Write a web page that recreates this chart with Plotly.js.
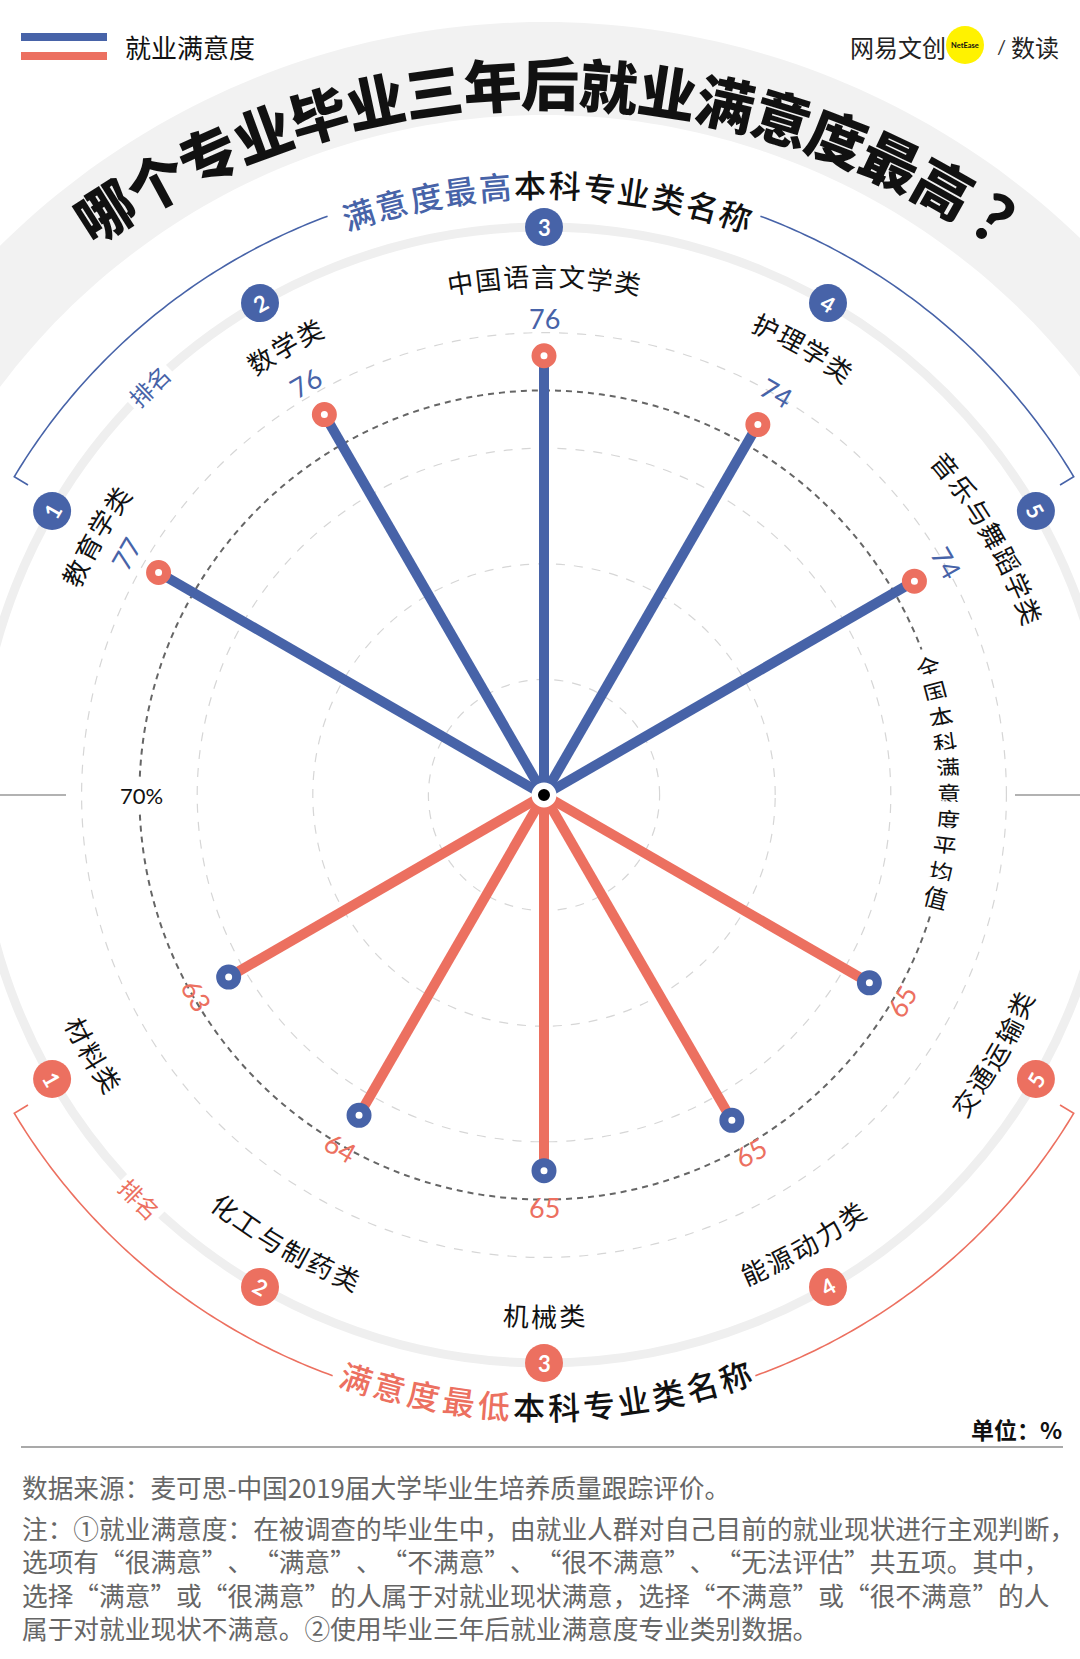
<!DOCTYPE html>
<html>
<head>
<meta charset="utf-8">
<script src="https://cdn.plot.ly/plotly-3.0.1.min.js"></script>
<style>
  body { margin: 0; background: #fff; }
  #chart { width: 1080px; height: 1659px; }
  /* keep full-width punctuation at full width, as in the original typesetting */
  #chart text { text-spacing-trim: space-all; }
</style>
</head>
<body>
<div id="chart"></div>
<script>
// data
var topMajors = ['教育学类', '数学类', '中国语言文学类', '护理学类', '音乐与舞蹈学类'];
var topValues = [77, 76, 76, 74, 74];
var bottomMajors = ['材料类', '化工与制药类', '机械类', '能源动力类', '交通运输类'];
var bottomValues = [63, 64, 65, 65, 65];
var ranks = ['1', '2', '3', '4', '5'];
var avgValue = 70;
var avgLabel = '70%';
var avgText = '全国本科满意度平均值';
var gridValues = [20, 40, 60, 80];

var titleText = '哪个专业毕业三年后就业满意度最高?';
var legendText = '就业满意度';
var sourceText = '数据来源：麦可思-中国2019届大学毕业生培养质量跟踪评价。';
var noteLines = [
  '注：①就业满意度：在被调查的毕业生中，由就业人群对自己目前的就业现状进行主观判断，',
  '选项有“很满意”、“满意”、“不满意”、“很不满意”、“无法评估”共五项。其中，',
  '选择“满意”或“很满意”的人属于对就业现状满意，选择“不满意”或“很不满意”的人',
  '属于对就业现状不满意。②使用毕业三年后就业满意度专业类别数据。'
];

// layout constants
var W = 1080, H = 1659;
var CX = 544, CY = 795;   // centre of the rose in px
var K = 5.78;             // px per percentage point
var RMAX = 85;
var BLUE = '#4763a8', RED = '#ec7060';
var CJK = '"Noto Sans CJK SC", "Noto Sans", sans-serif';
var NUM = 'Lato, "Noto Sans CJK SC", sans-serif';

var topAngles = topMajors.map(function (d, i) { return -60 + 30 * i; });
var bottomAngles = bottomMajors.map(function (d, i) { return 240 - 30 * i; });

function rad(d) { return d * Math.PI / 180; }
function pt(r, deg, cx, cy) {
  cx = cx === undefined ? CX : cx;
  cy = cy === undefined ? CY : cy;
  return { x: cx + r * Math.sin(rad(deg)), y: cy - r * Math.cos(rad(deg)) };
}

var annotations = [];
var shapes = [];

function ann(text, x, y, o) {
  o = o || {};
  annotations.push({
    text: text, x: x, y: y, xref: 'x', yref: 'y', showarrow: false,
    xanchor: o.xanchor || 'center', yanchor: o.yanchor || 'middle', align: o.align || 'center',
    textangle: o.angle || 0, bgcolor: o.bg || 'rgba(0,0,0,0)', borderpad: o.pad || 0,
    font: { family: o.family || CJK, size: o.size || 24, color: o.color || '#111', weight: o.weight || 400 }
  });
}

// characters laid along an arc, bottom arcs read left to right too
function arcText(str, r, mid, step, bottom, styleFn, cx, cy) {
  var chars = Array.from(str);
  var n = chars.length;
  chars.forEach(function (c, i) {
    var deg = mid + (i - (n - 1) / 2) * step * (bottom ? -1 : 1);
    var p = pt(r, deg, cx, cy);
    var s = styleFn(i, c);
    s.angle = bottom ? deg - 180 : deg;
    ann(c, p.x, p.y, s);
  });
}

function arcPath(r, a0, a1) {
  var d = '';
  var steps = Math.max(8, Math.round(Math.abs(a1 - a0) * 2));
  for (var i = 0; i <= steps; i++) {
    var p = pt(r, a0 + (a1 - a0) * i / steps);
    d += (i === 0 ? 'M ' : ' L ') + p.x.toFixed(2) + ',' + p.y.toFixed(2);
  }
  return d;
}

// background band behind the title
(function () {
  var d = '';
  for (var a = -90; a <= 90; a += 1) {
    var p = pt(773, a);
    d += (a === -90 ? 'M ' : ' L ') + p.x.toFixed(1) + ',' + p.y.toFixed(1);
  }
  for (var b = 90; b >= -90; b -= 1) {
    var q = pt(680, b);
    d += ' L ' + q.x.toFixed(1) + ',' + q.y.toFixed(1);
  }
  shapes.push({ type: 'path', xref: 'x', yref: 'y', path: d + ' Z', fillcolor: '#f2f2f2', line: { width: 0 }, layer: 'below' });
})();

// thin ring carrying the rank badges
shapes.push({ type: 'circle', xref: 'x', yref: 'y', x0: CX - 568, x1: CX + 568, y0: CY - 568, y1: CY + 568,
  line: { color: '#efefef', width: 9 }, layer: 'below' });

// brackets
function bracket(a0, a1, color) {
  var tick = pt(602, a0);
  shapes.push({ type: 'path', xref: 'x', yref: 'y', layer: 'below', line: { color: color, width: 1.6 },
    path: 'M ' + tick.x + ',' + tick.y + ' ' + arcPath(618, a0, a1).replace('M', 'L') });
}
function bracketEnd(a0, a1, color) {
  var tick = pt(602, a1);
  shapes.push({ type: 'path', xref: 'x', yref: 'y', layer: 'below', line: { color: color, width: 1.6 },
    path: arcPath(618, a0, a1) + ' L ' + tick.x + ',' + tick.y });
}
bracket(-59, -20.5, BLUE);
bracketEnd(20.5, 59, BLUE);
bracket(239, 200, RED);
bracketEnd(160, 121, RED);

// side dividers
shapes.push({ type: 'line', xref: 'x', yref: 'y', x0: 0, x1: 66, y0: CY, y1: CY, line: { color: '#999', width: 1.5 } });
shapes.push({ type: 'line', xref: 'x', yref: 'y', x0: 1015, x1: W, y0: CY, y1: CY, line: { color: '#999', width: 1.5 } });

// legend marks
shapes.push({ type: 'rect', xref: 'x', yref: 'y', x0: 21, x1: 107, y0: 33, y1: 41, fillcolor: BLUE, line: { width: 0 } });
shapes.push({ type: 'rect', xref: 'x', yref: 'y', x0: 21, x1: 107, y0: 52, y1: 60, fillcolor: RED, line: { width: 0 } });
ann(legendText, 124, 46, { xanchor: 'left', size: 26, color: '#111' });

// logo
shapes.push({ type: 'circle', xref: 'x', yref: 'y', x0: 946, x1: 984, y0: 26, y1: 64, fillcolor: '#fff200', line: { width: 0 } });
ann('网易文创', 849, 46, { xanchor: 'left', size: 24, color: '#222' });
ann('NetEase', 965, 45, { family: NUM, size: 7.5, color: '#111', weight: 700 });
ann('/', 1001, 46, { family: NUM, size: 20, color: '#333' });
ann('数读', 1010, 46, { xanchor: 'left', size: 24, color: '#222' });

// title and arc captions
arcText(titleText, 819, 0.45, 4.12, false, function (i, c) {
  if (c === '?') return { family: NUM, size: 68, weight: 900, color: '#111' };
  return { size: 58, weight: 900, color: '#111' };
}, 544, 900);
arcText('满意度最高本科专业类名称', 611, 0.3, 3.28, false, function (i) {
  return { size: 32, color: i < 5 ? BLUE : '#111', weight: 500 };
});
arcText('满意度最低本科专业类名称', 611, 179.8, 3.28, true, function (i) {
  return { size: 32, color: i < 5 ? RED : '#111', weight: 500 };
});

var p1 = pt(569, -44), p2 = pt(571, 225);
ann('排名', p1.x, p1.y, { size: 23, color: BLUE, angle: -44, bg: '#fff', pad: 3 });
ann('排名', p2.x, p2.y, { size: 23, color: RED, angle: 45, bg: '#fff', pad: 3 });

// category labels, value labels and rank numbers
var rankX = [], rankY = [], rankC = [];
topMajors.forEach(function (name, i) {
  var a = topAngles[i];
  arcText(name, 520, a, 3.1, false, function () { return { size: 26, color: '#111' }; });
  var v = pt(topValues[i] * K + 37, a);
  ann(String(topValues[i]), v.x, v.y, { family: NUM, size: 27, color: BLUE, angle: a });
  var b = pt(568, a);
  rankX.push(b.x); rankY.push(b.y); rankC.push(BLUE);
  ann(ranks[i], b.x, b.y, { family: NUM, size: 22, color: '#fff', angle: a, weight: 700 });
});
bottomMajors.forEach(function (name, i) {
  var a = bottomAngles[i];
  arcText(name, 520, a, 3.1, true, function () { return { size: 26, color: '#111' }; });
  var v = pt(bottomValues[i] * K + 37, a);
  ann(String(bottomValues[i]), v.x, v.y, { family: NUM, size: 27, color: RED, angle: a - 180 });
  var b = pt(568, a);
  rankX.push(b.x); rankY.push(b.y); rankC.push(RED);
  ann(ranks[i], b.x, b.y, { family: NUM, size: 22, color: '#fff', angle: a - 180, weight: 700 });
});

// average ring caption
Array.from(avgText).forEach(function (c, i, arr) {
  var deg = 88 + (i - (arr.length - 1) / 2) * 3.67;
  var p = pt(avgValue * K, deg);
  ann(c, p.x, p.y, { size: 24, color: '#111', angle: deg - 90, bg: '#fff', pad: 0 });
});
var pa = pt(avgValue * K, 270);
ann(avgLabel, pa.x + 2, pa.y, { family: NUM, size: 22, color: '#111', bg: '#fff', pad: 2 });

// footer
shapes.push({ type: 'line', xref: 'x', yref: 'y', x0: 21, x1: 1063, y0: 1447, y1: 1447, line: { color: '#8c8c8c', width: 1.5 } });
ann('单位：%', 1063, 1429, { xanchor: 'right', size: 23, weight: 700, color: '#111' });
ann(sourceText, 21, 1486, { xanchor: 'left', size: 25.7, color: '#666' });
ann(noteLines.join('<br>'), 21, 1577, { xanchor: 'left', align: 'left', size: 25.7, color: '#666' });

// traces
var traces = [];

traces.push({
  type: 'scatter', x: rankX, y: rankY, mode: 'markers', cliponaxis: false, hoverinfo: 'skip',
  marker: { size: 38, color: rankC, line: { width: 0 } }
});

var ring = [];
for (var t = 0; t <= 360; t += 1) ring.push(t);
traces.push({
  type: 'scatterpolar', r: ring.map(function () { return avgValue; }), theta: ring, mode: 'lines',
  line: { color: '#666', width: 2, dash: '6px,5px' }, hoverinfo: 'skip'
});

topMajors.forEach(function (name, i) {
  traces.push({
    type: 'scatterpolar', name: name, r: [0, topValues[i]], theta: [topAngles[i], topAngles[i]],
    mode: 'lines', line: { color: BLUE, width: 10 }, hoverinfo: 'skip'
  });
});
bottomMajors.forEach(function (name, i) {
  traces.push({
    type: 'scatterpolar', name: name, r: [0, bottomValues[i]], theta: [bottomAngles[i], bottomAngles[i]],
    mode: 'lines', line: { color: RED, width: 10 }, hoverinfo: 'skip'
  });
});
traces.push({
  type: 'scatterpolar', r: topValues, theta: topAngles, mode: 'markers', hoverinfo: 'skip',
  marker: { size: 16, color: '#fff', line: { color: RED, width: 9 } }
});
traces.push({
  type: 'scatterpolar', r: bottomValues, theta: bottomAngles, mode: 'markers', hoverinfo: 'skip',
  marker: { size: 16, color: '#fff', line: { color: BLUE, width: 9 } }
});
traces.push({
  type: 'scatterpolar', r: [0], theta: [0], mode: 'markers', hoverinfo: 'skip',
  marker: { size: 18.5, color: '#000', line: { color: '#fff', width: 6.5 } }
});

var half = RMAX * K;
var layout = {
  width: W, height: H,
  margin: { l: 0, r: 0, t: 0, b: 0 },
  paper_bgcolor: '#fff', plot_bgcolor: 'rgba(0,0,0,0)',
  showlegend: false,
  xaxis: { range: [0, W], visible: false, fixedrange: true },
  yaxis: { range: [H, 0], visible: false, fixedrange: true },
  polar: {
    domain: { x: [(CX - half) / W, (CX + half) / W], y: [(H - CY - half) / H, (H - CY + half) / H] },
    bgcolor: 'rgba(0,0,0,0)',
    radialaxis: {
      range: [0, RMAX], tickvals: gridValues, showticklabels: false, ticks: '', showline: false,
      gridcolor: '#d6d6d6', gridwidth: 1.2, griddash: 'dash'
    },
    angularaxis: {
      rotation: 90, direction: 'clockwise', showgrid: false, showline: false,
      showticklabels: false, ticks: ''
    }
  },
  shapes: shapes,
  annotations: annotations
};

Plotly.newPlot('chart', traces, layout, { displayModeBar: false, staticPlot: true });
</script>
</body>
</html>
